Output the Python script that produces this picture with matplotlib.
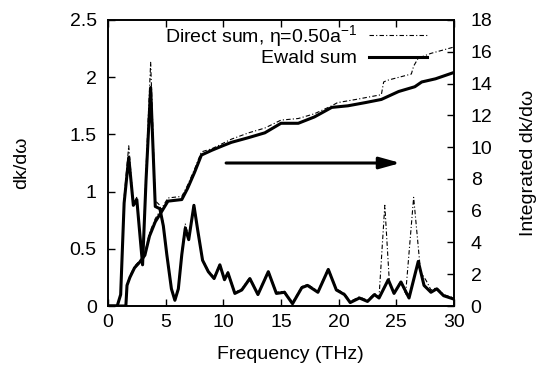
import matplotlib
matplotlib.use("Agg")
import matplotlib.pyplot as plt

plt.rcParams['font.family'] = ['Liberation Sans', 'DejaVu Sans']
plt.rcParams['mathtext.fontset'] = 'custom'
plt.rcParams['mathtext.rm'] = 'Liberation Sans'
plt.rcParams['mathtext.default'] = 'regular'

# dk/domega, Ewald sum (left axis)
freq_ewald = [0, 0.8, 1.1, 1.4, 1.8, 2.2, 2.5, 2.7, 3.0, 3.3, 3.7, 4.1, 4.5, 4.8,
              5.1, 5.5, 5.8, 6.1, 6.4, 6.7, 7.0, 7.45, 7.8, 8.2, 8.7, 9.2, 9.7,
              10.1, 10.4, 11.0, 11.6, 12.3, 13.0, 13.9, 14.6, 15.3, 16.0, 16.8,
              17.3, 18.2, 19.1, 19.8, 20.5, 21.0, 21.8, 22.5, 23.1, 23.5, 24.3,
              24.8, 25.4, 26.1, 26.9, 27.4, 28.0, 28.5, 29.1, 30]
dos_ewald = [0, 0, 0.1, 0.9, 1.3, 0.88, 0.93, 0.7, 0.36, 1.1, 1.91, 0.87, 0.85, 0.7,
             0.45, 0.15, 0.05, 0.15, 0.45, 0.68, 0.58, 0.88, 0.65, 0.4, 0.3, 0.24, 0.36,
             0.23, 0.29, 0.11, 0.14, 0.24, 0.10, 0.30, 0.11, 0.12, 0.02, 0.16,
             0.18, 0.12, 0.32, 0.14, 0.10, 0.03, 0.07, 0.04, 0.10, 0.07, 0.23,
             0.11, 0.21, 0.07, 0.39, 0.18, 0.12, 0.15, 0.09, 0.06]

# dk/domega, direct sum
freq_direct = [0, 0.8, 1.1, 1.4, 1.8, 2.2, 2.5, 2.7, 3.0, 3.3, 3.7, 4.1, 4.5, 4.8,
               5.1, 5.5, 5.8, 6.1, 6.4, 6.7, 7.0, 7.45, 7.8, 8.2, 8.7, 9.2, 9.7,
               10.1, 10.4, 11.0, 11.6, 12.3, 13.0, 13.9, 14.6, 15.3, 16.0, 16.8,
               17.3, 18.2, 19.1, 19.8, 20.5, 21.0, 21.8, 22.5, 23.1, 23.5, 24.0,
               24.4, 24.8, 25.4, 25.8, 26.5, 27.1, 27.6, 28.0, 28.5, 29.1, 30]
dos_direct = [0, 0, 0.1, 0.95, 1.4, 0.9, 0.95, 0.72, 0.38, 1.2, 2.13, 0.92, 0.88, 0.72,
              0.46, 0.16, 0.06, 0.16, 0.47, 0.72, 0.6, 0.9, 0.66, 0.41, 0.31, 0.25, 0.37,
              0.24, 0.3, 0.12, 0.15, 0.25, 0.11, 0.31, 0.12, 0.13, 0.03, 0.17,
              0.19, 0.13, 0.33, 0.15, 0.11, 0.04, 0.08, 0.05, 0.11, 0.08, 0.88,
              0.2, 0.12, 0.22, 0.1, 0.95, 0.3, 0.22, 0.14, 0.16, 0.1, 0.07]

# integrated dk/domega (right axis)
freq_int_ewald = [0, 1.55, 1.65, 1.9, 2.3, 2.8, 3.2, 3.6, 4.1, 4.7, 5.2, 6.4, 6.9,
                  7.5, 8.1, 9.0, 10.0, 10.7, 12.2, 13.6, 15.0, 16.5, 17.9, 19.4,
                  20.8, 22.3, 23.7, 25.2, 26.6, 27.2, 28.4, 30]
int_ewald = [0, 0, 1.3, 1.8, 2.4, 2.8, 3.2, 4.4, 5.3, 6.0, 6.6, 6.7, 7.4,
             8.4, 9.5, 9.8, 10.1, 10.3, 10.6, 10.9, 11.5, 11.5, 11.9, 12.5,
             12.6, 12.8, 13.0, 13.5, 13.8, 14.1, 14.3, 14.7]

freq_int_direct = [0, 1.55, 1.65, 1.9, 2.3, 2.8, 3.2, 3.6, 4.1, 4.7, 5.2, 6.4, 6.9,
                   7.5, 8.1, 9.0, 9.3, 10.7, 12.2, 13.6, 15.0, 16.5, 17.9, 19.4,
                   19.9, 21.5, 23.7, 23.9, 24.2, 26.3, 26.5, 26.9, 28.0, 30]
int_direct = [0, 0, 1.35, 1.9, 2.5, 2.9, 3.35, 4.6, 5.5, 6.2, 6.8, 6.9, 7.6,
              8.6, 9.7, 9.9, 10.0, 10.5, 10.9, 11.2, 11.7, 11.8, 12.1, 12.6,
              12.8, 13.0, 13.3, 14.1, 14.2, 14.6, 15.1, 15.6, 15.9, 16.3]

fig = plt.figure(figsize=(5.38, 3.69), dpi=100)
ax = fig.add_axes([0.2007, 0.1707, 0.6432, 0.7751])
ax2 = ax.twinx()

l_direct, = ax.plot(freq_direct, dos_direct, color='black', lw=0.8,
                    ls=(0, (4, 2, 1, 2)), label='Direct sum, η=0.50a$^{-1}$')
l_ewald, = ax.plot(freq_ewald, dos_ewald, color='black', lw=2.2, label='Ewald sum')
ax2.plot(freq_int_direct, int_direct, color='black', lw=0.8, ls=(0, (4, 2, 1, 2)))
ax2.plot(freq_int_ewald, int_ewald, color='black', lw=2.2)

ax.set_xlim(0, 30)
ax.set_ylim(0, 2.5)
ax2.set_ylim(0, 18)
ax.set_xticks([0, 5, 10, 15, 20, 25, 30])
ax.set_yticks([0, 0.5, 1, 1.5, 2, 2.5])
ax.set_yticklabels(['0', '0.5', '1', '1.5', '2', '2.5'])
ax2.set_yticks(range(0, 19, 2))

fs = 14
ax.tick_params(axis='x', direction='in', top=True, length=5, width=1,
               labelsize=fs, pad=6)
ax.tick_params(axis='y', direction='in', right=False, length=5, width=1,
               labelsize=fs, pad=8)
ax2.tick_params(axis='y', direction='in', length=5, width=1, labelsize=fs, pad=12)
for a in (ax, ax2):
    for s in a.spines.values():
        s.set_linewidth(1.2)

ax2.annotate('', xy=(25.6, 9.0), xytext=(10, 9.0),
             arrowprops=dict(arrowstyle='-|>,head_length=0.9,head_width=0.25',
                             color='black', lw=2.2, mutation_scale=14))

ax2.legend(handles=[l_direct, l_ewald], loc='upper right',
           bbox_to_anchor=(0.93, 1.0), frameon=False, markerfirst=False,
           fontsize=fs, handlelength=3.0, handletextpad=0.6, labelspacing=0.05,
           borderpad=0.15, borderaxespad=0.0)

fig.text(0.041, 0.558, 'dk/dω', rotation=90, ha='center', va='center', fontsize=fs)
fig.text(0.983, 0.558, 'Integrated dk/dω', rotation=90, ha='center', va='center',
         fontsize=fs)
fig.text(0.54, 0.038, 'Frequency (THz)', ha='center', va='center', fontsize=fs)

fig.savefig('out.png', dpi=100)
